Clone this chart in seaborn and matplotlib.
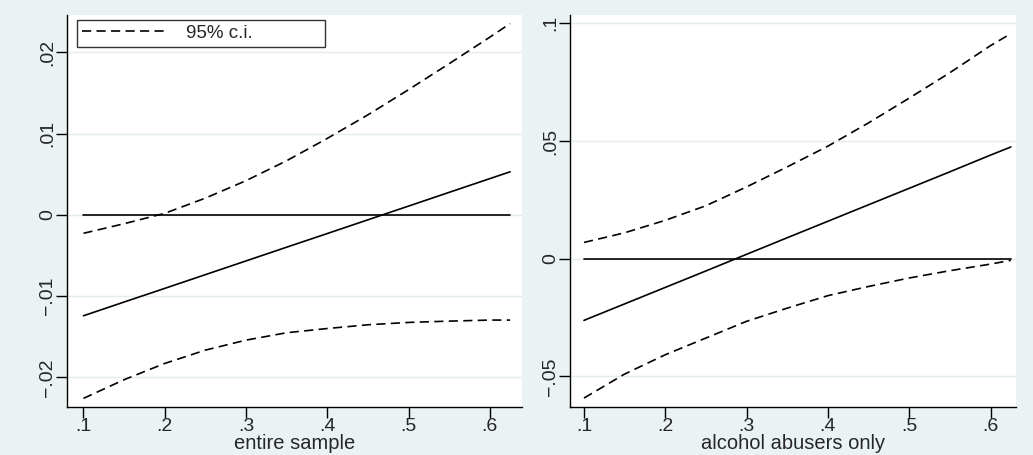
import matplotlib
matplotlib.use("Agg")
import matplotlib.pyplot as plt
import numpy as np
import pandas as pd
import seaborn as sns

# values
x_pts = [0.1, 0.15, 0.2, 0.25, 0.3, 0.35, 0.4, 0.45, 0.5, 0.55, 0.6, 0.625]

# entire sample
all_est = [-0.01243, -0.01074, -0.00906, -0.00737, -0.00568, -0.00399,
           -0.00231, -0.00062, 0.00107, 0.00276, 0.00445, 0.00529]
all_lo = [-0.0226, -0.0203, -0.0183, -0.01666, -0.01543, -0.01452,
          -0.0140, -0.01354, -0.01325, -0.01309, -0.01296, -0.01296]
all_hi = [-0.00228, -0.0011, 0.00018, 0.00205, 0.0042, 0.00665,
          0.0094, 0.0123, 0.01540, 0.0186, 0.02186, 0.02354]

# alcohol abusers only
ab_est = [-0.0262, -0.0192, -0.0122, -0.0052, 0.00186, 0.0089,
          0.0159, 0.0229, 0.0299, 0.0369, 0.0440, 0.04745]
ab_lo = [-0.0592, -0.0490, -0.0408, -0.0337, -0.0266, -0.0210,
         -0.0157, -0.0118, -0.0082, -0.0051, -0.0023, -0.0007]
ab_hi = [0.0069, 0.0110, 0.0163, 0.0225, 0.0305, 0.0390,
         0.0478, 0.0577, 0.0682, 0.0790, 0.0905, 0.0956]

zero = [0.0] * len(x_pts)

x_ticks = [0.1, 0.2, 0.3, 0.4, 0.5, 0.6]
x_labels = [".1", ".2", ".3", ".4", ".5", ".6"]
left_yticks = [-0.02, -0.01, 0.0, 0.01, 0.02]
left_ylabels = ["\u2212.02", "\u2212.01", "0", ".01", ".02"]
right_yticks = [-0.05, 0.0, 0.05, 0.1]
right_ylabels = ["\u2212.05", "0", ".05", ".1"]

bg = "#eaf2f3"
sns.set_style("white")
plt.rcParams["font.family"] = ["Liberation Sans", "DejaVu Sans"]
FS_TICK = 14
FS_LAB = 14.5
dash = (0, (5.5, 3.2))

fig = plt.figure(figsize=(10.33, 4.55), dpi=100, facecolor=bg)
ax1 = fig.add_axes([0.0653, 0.1055, 0.440, 0.8615])
ax2 = fig.add_axes([0.5518, 0.1055, 0.4318, 0.8615])

panels = [
    (ax1, all_est, all_lo, all_hi, "entire sample", left_yticks, left_ylabels,
     (0.0803, 0.6396), (-0.02366, 0.02459)),
    (ax2, ab_est, ab_lo, ab_hi, "alcohol abusers only", right_yticks, right_ylabels,
     (0.0828, 0.6314), (-0.063, 0.1035)),
]

for ax, est, lo, hi, xlab, yt, yl, xlim, ylim in panels:
    df = pd.DataFrame({"x": x_pts, "est": est, "lo": lo, "hi": hi, "zero": zero})
    for yt_ in yt:
        ax.axhline(yt_, color="#e3ecee", lw=1.0, zorder=0)
    sns.lineplot(data=df, x="x", y="zero", ax=ax, color="black", lw=1.2)
    sns.lineplot(data=df, x="x", y="est", ax=ax, color="black", lw=1.2)
    sns.lineplot(data=df, x="x", y="lo", ax=ax, color="black", lw=1.2,
                 linestyle=dash)
    sns.lineplot(data=df, x="x", y="hi", ax=ax, color="black", lw=1.2,
                 linestyle=dash)
    ax.set_xlim(*xlim)
    ax.set_ylim(*ylim)
    ax.set_xticks(x_ticks)
    ax.set_xticklabels(x_labels, fontsize=FS_TICK)
    ax.set_yticks(yt)
    ax.set_yticklabels(yl, fontsize=FS_TICK, rotation=90, va="center")
    ax.set_xlabel(xlab, fontsize=FS_LAB, labelpad=-1)
    ax.set_ylabel("")
    ax.set_facecolor("white")
    for s in ["top", "right"]:
        ax.spines[s].set_visible(False)
    for s in ["left", "bottom"]:
        ax.spines[s].set_color("black")
        ax.spines[s].set_linewidth(1.0)
    ax.tick_params(axis="both", direction="out", length=8, width=1.0,
                   color="black", pad=0, bottom=True, left=True)

handle = plt.Line2D([], [], color="black", lw=1.2, linestyle=dash)
leg = ax1.legend([handle], ["95% c.i."], loc="upper left",
                 bbox_to_anchor=(0.0209, 0.921, 0.5457, 0.066), mode="expand",
                 fontsize=13.5, frameon=True, fancybox=False,
                 handlelength=4.6, handletextpad=0.95,
                 borderpad=0.25, borderaxespad=0)
leg.get_frame().set_edgecolor("black")
leg.get_frame().set_linewidth(1.0)

fig.savefig("out.png", dpi=100, facecolor=bg)
